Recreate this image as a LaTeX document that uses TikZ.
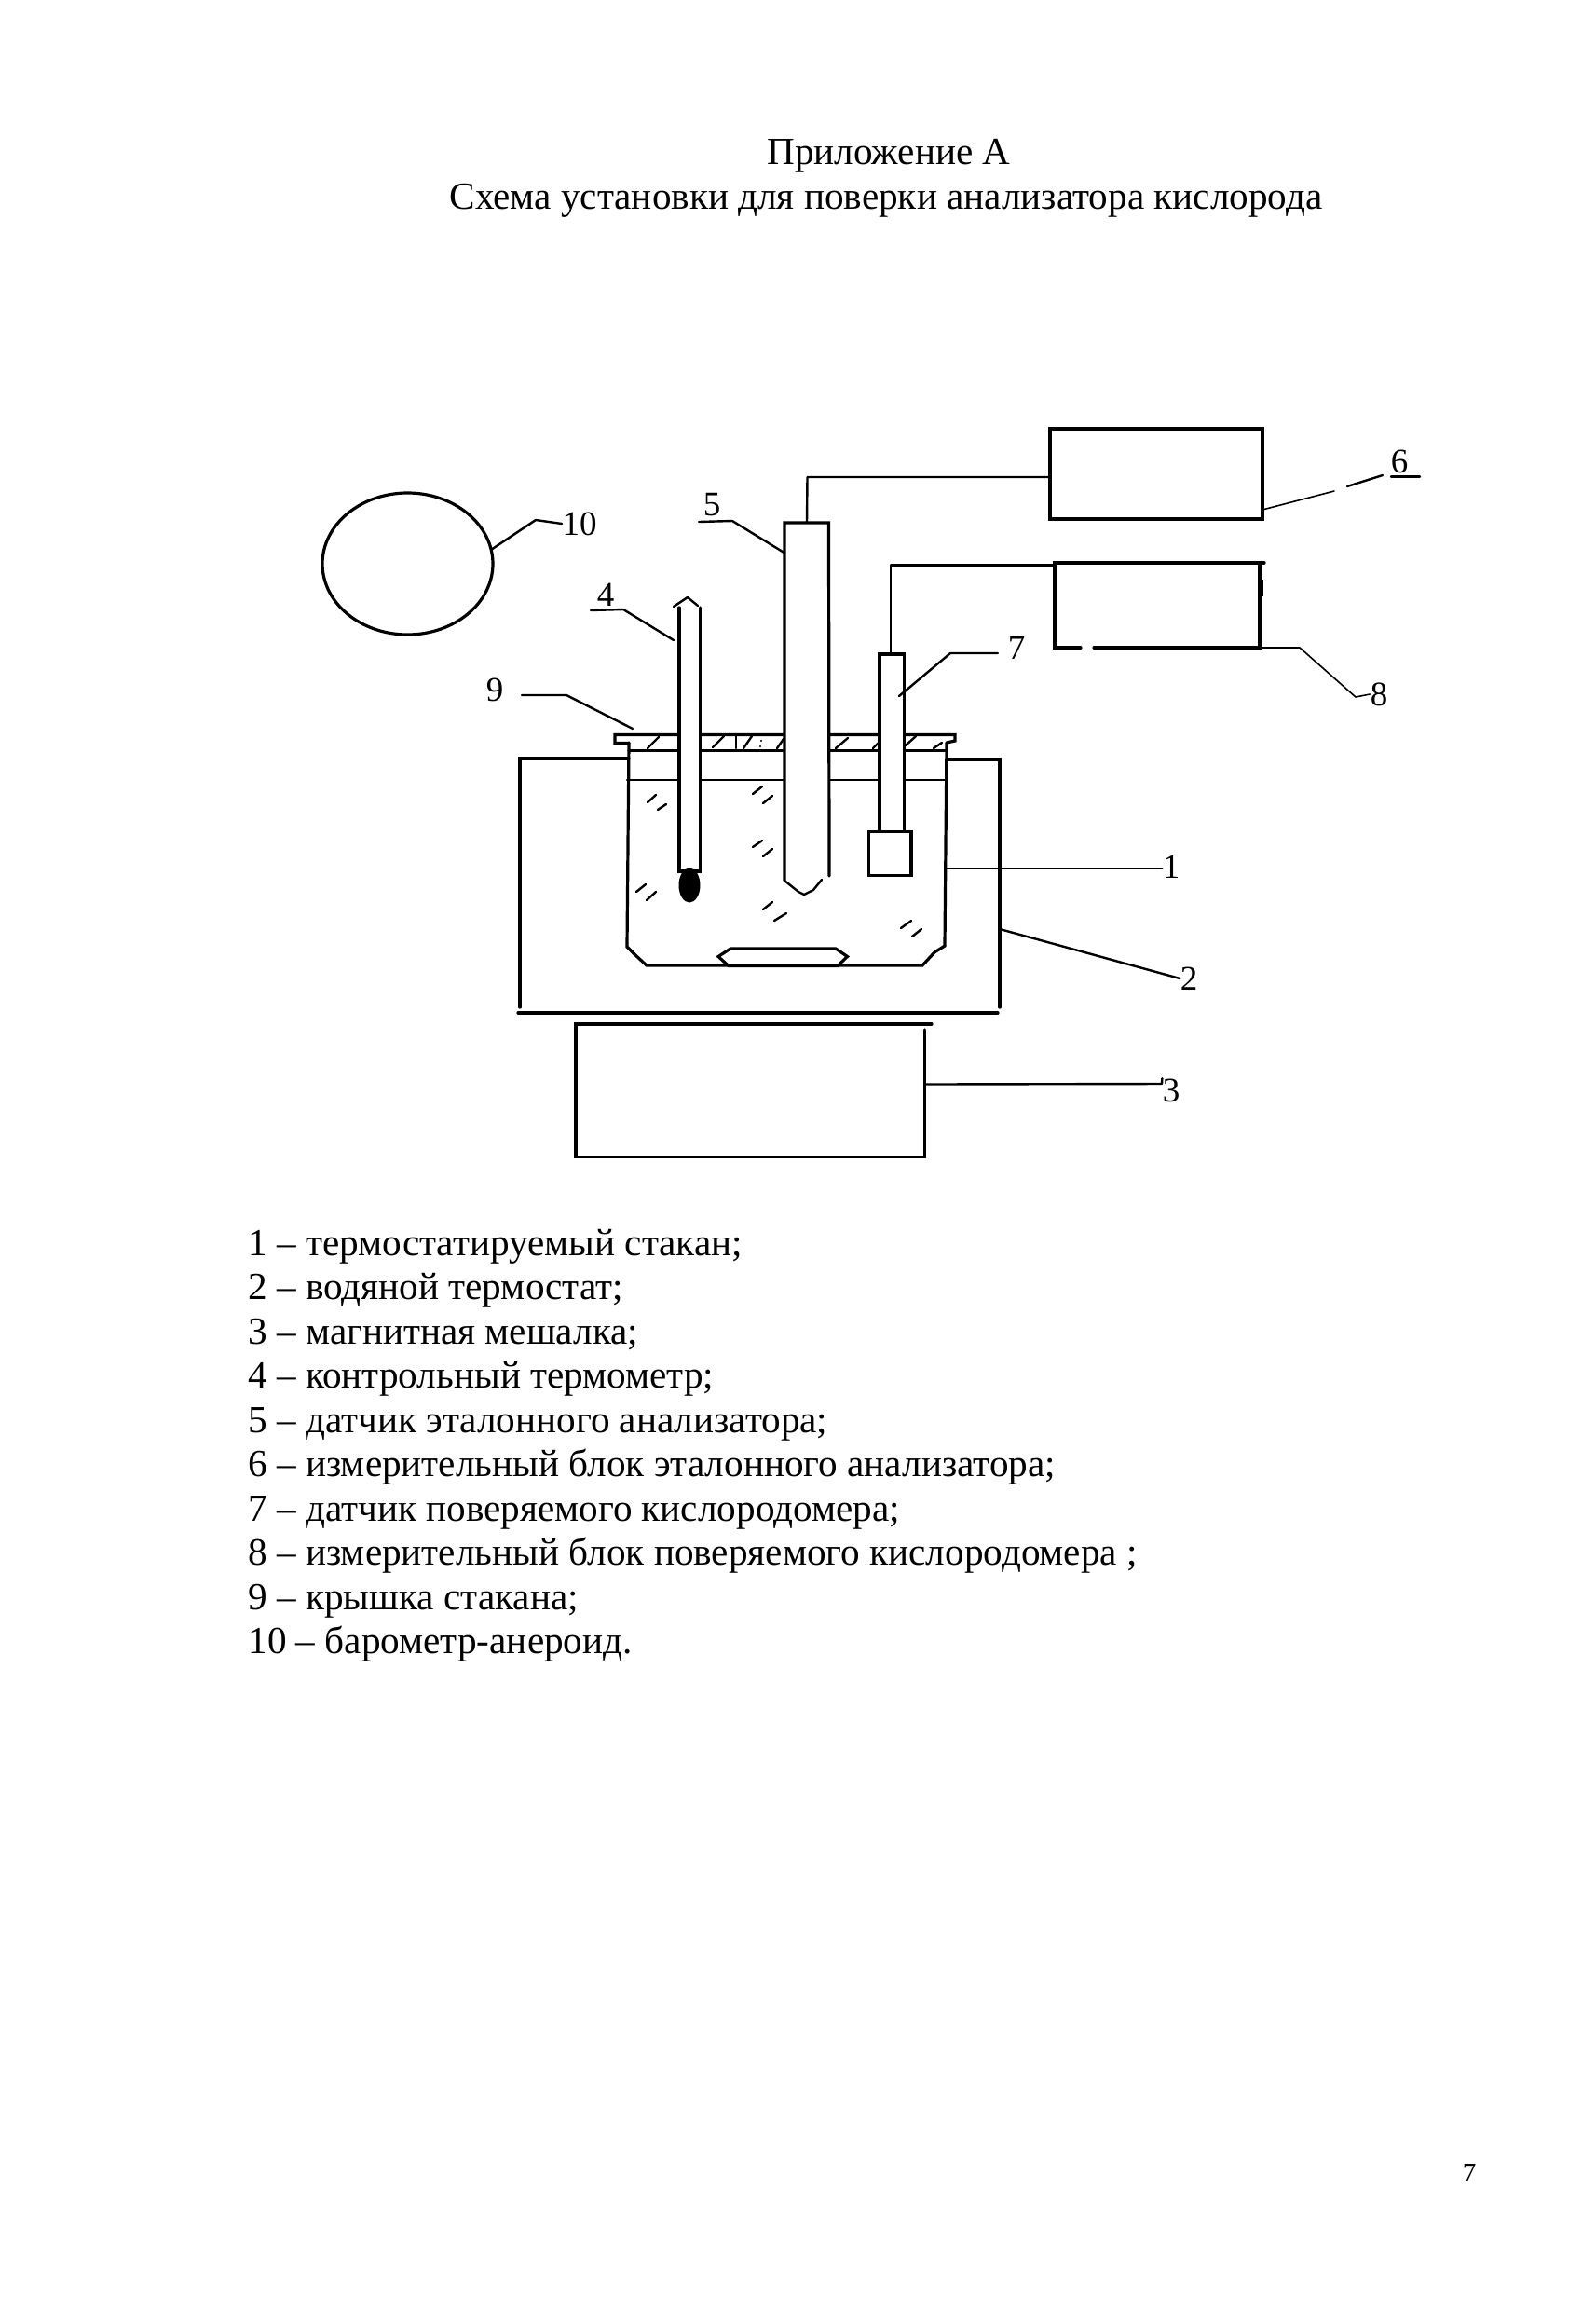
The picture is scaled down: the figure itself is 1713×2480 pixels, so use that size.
\documentclass[tikz,border=0pt]{standalone}
\usepackage{fontspec}
\setmainfont{Liberation Serif}
\usetikzlibrary{shapes.geometric}
\begin{document}
\begin{tikzpicture}[x=0.5pt,y=-0.5pt,
  thickl/.style={line width=1.6pt,line cap=round,line join=miter},
  midl/.style={line width=1.2pt,line cap=round,line join=round},
  thinl/.style={line width=0.8pt,line cap=round,line join=round},
  hatch/.style={line width=1.2pt,line cap=round},
  num/.style={font=\fontsize{18.5}{20}\selectfont,inner sep=0pt},
  para/.style={font=\fontsize{20.6}{24}\selectfont,inner sep=0pt,anchor=base west},
  ttl/.style={font=\fontsize{20.6}{24}\selectfont,inner sep=0pt,anchor=base},
  unit/.style={draw,thickl,inner sep=0pt}]
\useasboundingbox (0,0) rectangle (1713,2480);
\fill[white] (0,0) rectangle (1713,2480);

% titles
\node[ttl] (t1) at (954,176) {Приложение А};
\node[ttl] (t2) at (951,224) {Схема установки для поверки анализатора кислорода};

% water thermostat 2
\draw[thickl] (675,814) -- (558,814) -- (558,1081);
\draw[thickl] (556,1087) -- (1071,1087);
\draw[thickl] (1073,1081) -- (1073,815) -- (1016,815);

% beaker 1 with cap 9 and liquid level
\draw[thickl] (675,797) -- (673,1016) -- (681,1024) -- (694,1036) -- (990,1036) -- (1003,1022) -- (1014,1015) -- (1016,797);
\draw[midl] (673,837) -- (1015,837);
\draw[thickl] (675,797.5) -- (660,797.5) -- (660,788.5) -- (1025,788.5) -- (1025,795) -- (1016,797);
\draw[thickl] (675,805.5) -- (1016,805.5);

% cap hatching
\foreach \xa/\ya/\xb/\yb in {695/803/707/791, 765/802/777/790, 790/789/790/803, 798/803/807/790, 834/803/841/793, 897/803/910/792, 937/803/943/797, 972/800/983/790, 1002/803/1011/797}
  \draw[hatch] (\xa,\ya) -- (\xb,\yb);
\fill (817,795) circle (1.2);
\fill (816,801) circle (1.2);

% liquid marks
\foreach \xa/\ya/\xb/\yb in {695/861/704/853, 706/869/715/863, 808/852/818/844, 819/862/829/854, 808/909/818/902, 819/919/829/911, 683/957/693/949, 694/966/704/957, 819/976/829/968, 831/988/844/980, 967/996/978/988, 979/1005/989/997}
  \draw[hatch] (\xa,\ya) -- (\xb,\yb);

% stirring bar
\draw[thickl,fill=white] (784,1018) -- (897,1018) -- (909.5,1026.5) -- (899,1036.5) -- (782,1036.5) -- (771,1026.5) -- cycle;

% thermometer 4
\coordinate (s4side) at (723,687);
\draw[thickl,fill=white] (729,652) -- (729,935) -- (751.5,935) -- (751.5,652);
\draw[midl] (723,651) -- (738,641) -- (749,650);
\fill (740,950) ellipse (11.5 and 18.5);

% sensor 5
\coordinate (s5top) at (866,561);
\coordinate (s5side) at (841.5,593);
\draw[thickl,fill=white] (842,945) -- (842,561) -- (889.5,561) -- (890,940);
\draw[midl] (842,945) -- (857,957) -- (863,960) -- (873,955) -- (882,944);

% sensor 7
\coordinate (s7top) at (956,702);
\coordinate (s7side) at (965,747);
\draw[thickl,fill=white] (944,893) -- (944,702) -- (970.5,702) -- (970.5,893);
\node[unit,fill=white,minimum width=45.5*0.5pt,minimum height=46.5*0.5pt] (s7box) at (955.2,916) {};

% measuring unit 6
\node[unit,minimum width=228*0.5pt,minimum height=97*0.5pt] (b6) at (1241,508.5) {};
\coordinate (b6in) at (1127,512);
\coordinate (b6out) at (1355,547);
\draw[midl] (s5top) -- (866.5,512) -- (b6in);

% measuring unit 8
\coordinate (b8in) at (1132,606.5);
\coordinate (b8out) at (1352,695);
\draw[thickl] (1357,604) -- (1132,604) -- (1132,695) -- (1160,695);
\draw[thickl] (1174,695) -- (1352,695) -- (1352,604);
\draw[line width=2pt] (1354,622) -- (1354,640);
\draw[midl] (s7top) -- (956,606.5) -- (b8in);

% stirrer 3
\coordinate (s3out) at (992.5,1163.5);
\draw[thickl] (1000,1099) -- (618,1099) -- (618,1241.5) -- (992.5,1241.5) -- (992.5,1105);

% barometer 10
\node[draw,thickl,ellipse,inner sep=0pt,minimum width=183*0.5pt,minimum height=152*0.5pt] (baro) at (437.5,605) {};

% reference numerals
\node[num] (n1) at (1257,930) {1};
\node[num] (n2) at (1276,1050) {2};
\node[num] (n3) at (1257,1170) {3};
\node[num] (n4) at (650,638) {4};
\node[num] (n5) at (764,542) {5};
\node[num] (n6) at (1502,495) {6};
\node[num] (n7) at (1091,695) {7};
\node[num] (n8) at (1480,745) {8};
\node[num] (n9) at (531,740) {9};
\node[num] (n10) at (622,562) {10};

% leaders
\coordinate (l1a) at (1016,932);
\coordinate (l2a) at (1073,997);
\draw[midl] (l1a) -- (n1.west |- l1a);
\draw[midl] (l2a) -- (n2.west);
\draw[midl] (s3out) -- (1247,1163) -- (n3.north west);
\draw[midl] (s4side) -- (669,654) -- (634,655);
\draw[midl] (s5side) -- (786,559) -- (750,560);
\draw[thinl] (b6out) -- (1432,527);
\draw[midl] (1446,522) -- (1484,510);
\draw[midl] (1493,511.5) -- (1524,511.5);
\draw[midl] (s7side) -- (1020,701) -- (1071,701);
\draw[thinl] (b8out) -- (1395,695) -- (1455,748) -- (n8.west);
\draw[midl] (679,782) -- (608,746) -- (560,746);
\draw[midl] (baro.10) -- (575,558) -- (n10.west);

% legend
\node[para] (li1) at (266,1347) {1 – термостатируемый стакан;};
\node[para] (li2) at (266,1394.5) {2 – водяной термостат;};
\node[para] (li3) at (266,1442) {3 – магнитная мешалка;};
\node[para] (li4) at (266,1489.5) {4 – контрольный термометр;};
\node[para] (li5) at (266,1537) {5 – датчик эталонного анализатора;};
\node[para] (li6) at (266,1584.5) {6 – измерительный блок эталонного анализатора;};
\node[para] (li7) at (266,1632) {7 – датчик поверяемого кислородомера;};
\node[para] (li8) at (266,1679.5) {8 – измерительный блок поверяемого кислородомера ;};
\node[para] (li9) at (266,1727) {9 – крышка стакана;};
\node[para] (li10) at (266,1774.5) {10 – барометр-анероид.};

% page number
\node[font=\fontsize{14.5}{16}\selectfont,inner sep=0pt] (pg) at (1577,2332) {7};
\end{tikzpicture}
\end{document}
